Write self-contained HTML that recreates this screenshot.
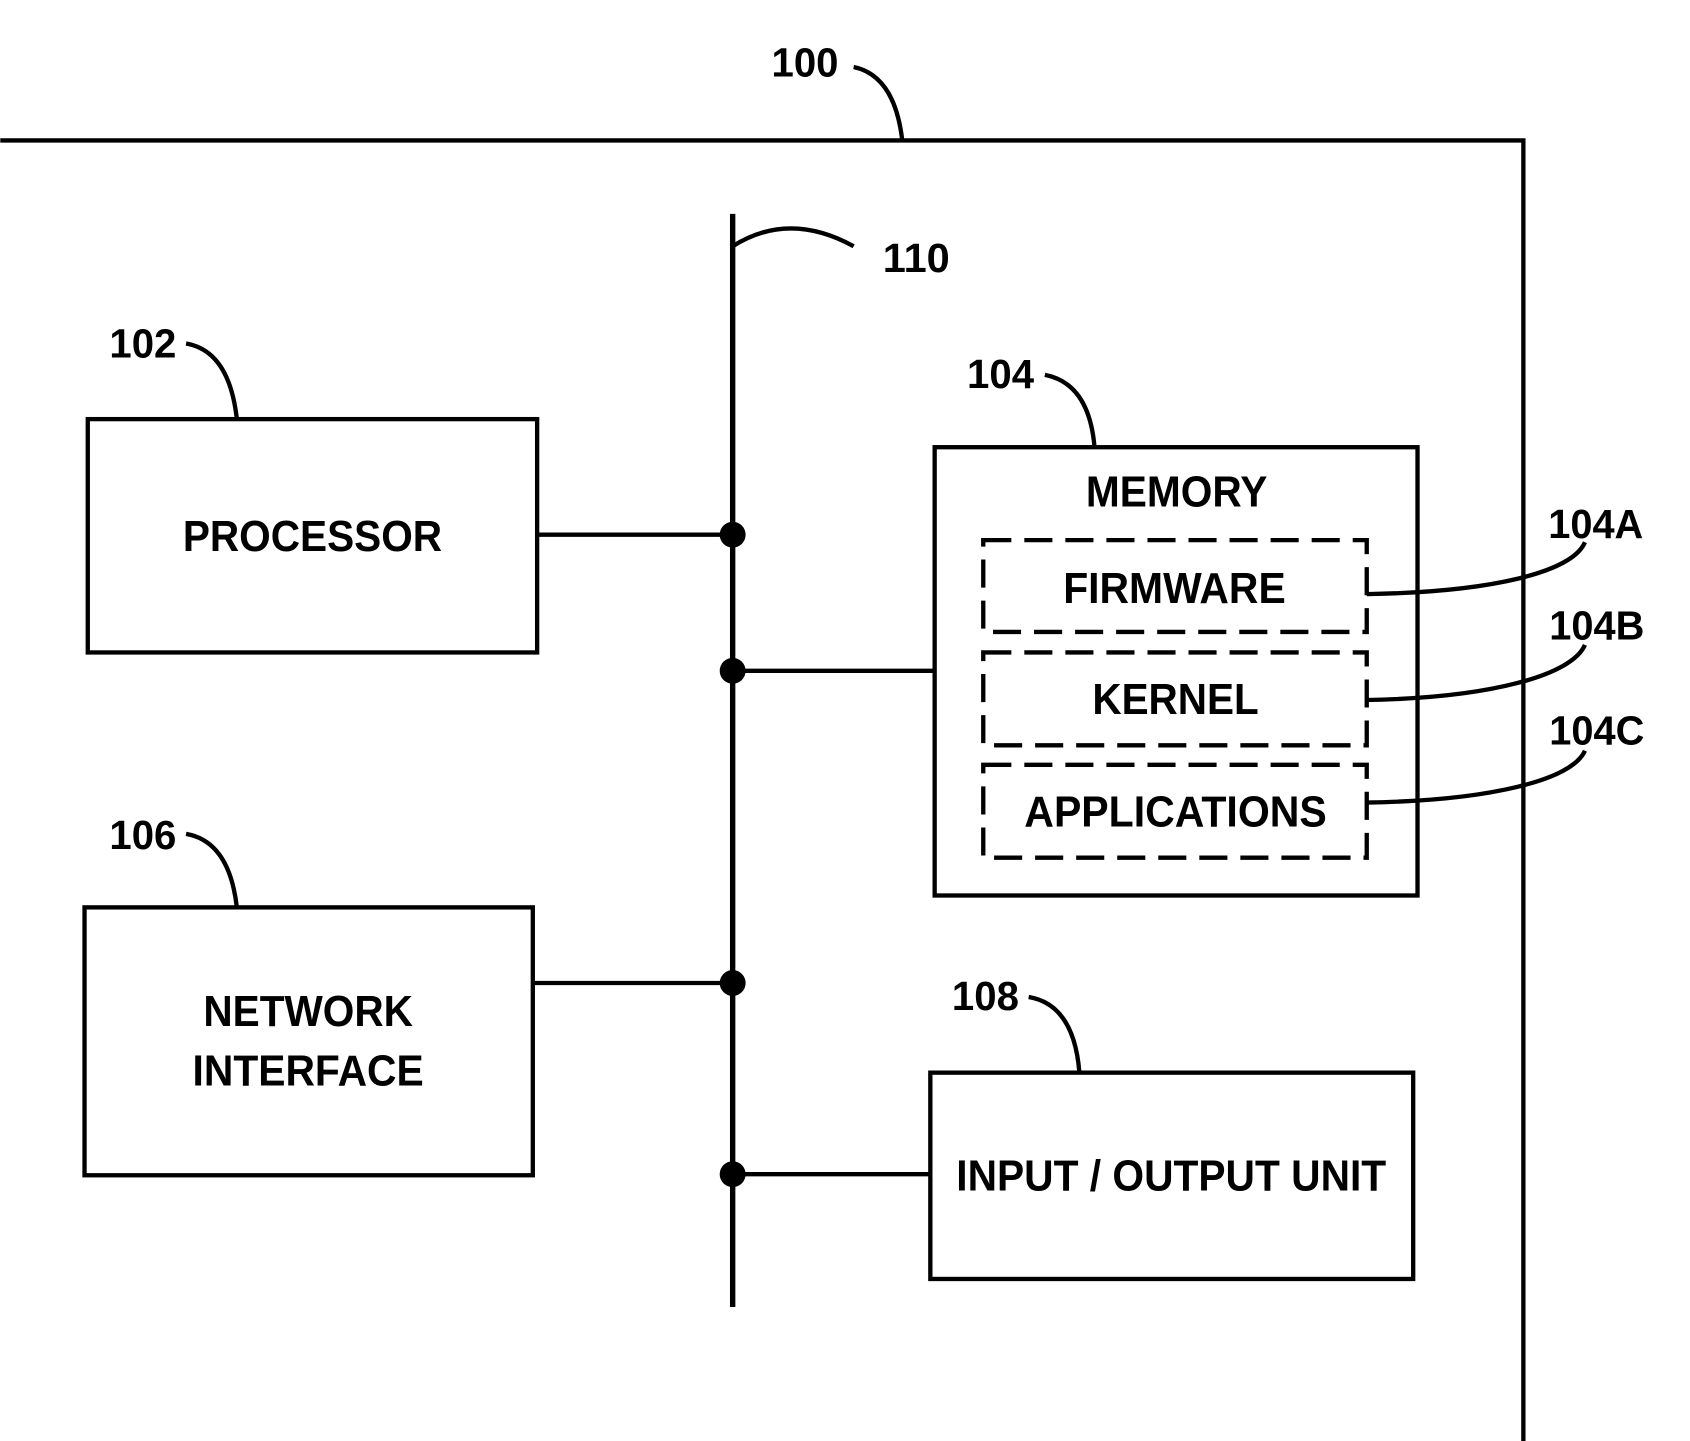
<!DOCTYPE html>
<html><head><style>html,body{margin:0;padding:0;background:#fff}svg{display:block}</style></head>
<body>
<svg width="1690" height="1441" viewBox="0 0 1564 1334" xmlns="http://www.w3.org/2000/svg" font-family="Liberation Sans, Arial, sans-serif" font-weight="bold">
<g fill="none" stroke="#000" stroke-width="4">
<path d="M0 130 H1410 V1334"/>
<path d="M790 62 Q828 70 835 130"/>
<path d="M678 198 V1210" stroke-width="5"/>
<path d="M678 228 Q730 195 790 228"/>
<rect x="81" y="388" width="416" height="216"/>
<path d="M172 318 Q212 325 219 388"/>
<path d="M497 495 H678"/>
<rect x="865" y="414" width="447" height="415"/>
<path d="M967 347 Q1008 355 1013 414"/>
<path d="M678 621 H865"/>
<g stroke-dasharray="26 12">
<rect x="910" y="500" width="355" height="85"/>
<rect x="910" y="604" width="355" height="86"/>
<rect x="910" y="708" width="355" height="86"/>
</g>
<path d="M1265 550 C1380 548 1455 530 1467 502"/>
<path d="M1265 648 C1380 646 1455 625 1467 597"/>
<path d="M1265 743 C1380 741 1455 722 1467 695"/>
<rect x="78" y="840" width="415" height="248"/>
<path d="M172 772 Q212 779 219 840"/>
<path d="M493 910 H678"/>
<rect x="861" y="993" width="447" height="191"/>
<path d="M952 923 Q994 930 999 993"/>
<path d="M678 1087 H861"/>
</g>
<g fill="#000">
<circle cx="678" cy="495" r="12"/><circle cx="678" cy="621" r="12"/>
<circle cx="678" cy="910" r="12"/><circle cx="678" cy="1087" r="12"/>
</g>
<g font-size="40" text-anchor="middle" fill="#000">
<text x="289" y="510" textLength="240" lengthAdjust="spacingAndGlyphs">PROCESSOR</text>
<text x="1089" y="469" textLength="168" lengthAdjust="spacingAndGlyphs">MEMORY</text>
<text x="1087" y="558" textLength="206" lengthAdjust="spacingAndGlyphs">FIRMWARE</text>
<text x="1088" y="661" textLength="154" lengthAdjust="spacingAndGlyphs">KERNEL</text>
<text x="1088" y="765" textLength="280" lengthAdjust="spacingAndGlyphs">APPLICATIONS</text>
<text x="285" y="950" textLength="194" lengthAdjust="spacingAndGlyphs">NETWORK</text>
<text x="285" y="1005" textLength="214" lengthAdjust="spacingAndGlyphs">INTERFACE</text>
<text x="1084" y="1102" textLength="398" lengthAdjust="spacingAndGlyphs">INPUT / OUTPUT UNIT</text>
</g>
<g font-size="38" text-anchor="middle" fill="#000">
<text x="745" y="71" textLength="62" lengthAdjust="spacingAndGlyphs">100</text>
<text x="848" y="252" textLength="62" lengthAdjust="spacingAndGlyphs">110</text>
<text x="132" y="331" textLength="62" lengthAdjust="spacingAndGlyphs">102</text>
<text x="926" y="359" textLength="62" lengthAdjust="spacingAndGlyphs">104</text>
<text x="132" y="786" textLength="62" lengthAdjust="spacingAndGlyphs">106</text>
<text x="912" y="935" textLength="62" lengthAdjust="spacingAndGlyphs">108</text>
<text x="1477" y="498" textLength="88" lengthAdjust="spacingAndGlyphs">104A</text>
<text x="1478" y="592" textLength="88" lengthAdjust="spacingAndGlyphs">104B</text>
<text x="1478" y="689" textLength="88" lengthAdjust="spacingAndGlyphs">104C</text>
</g>
</svg>
</body></html>
